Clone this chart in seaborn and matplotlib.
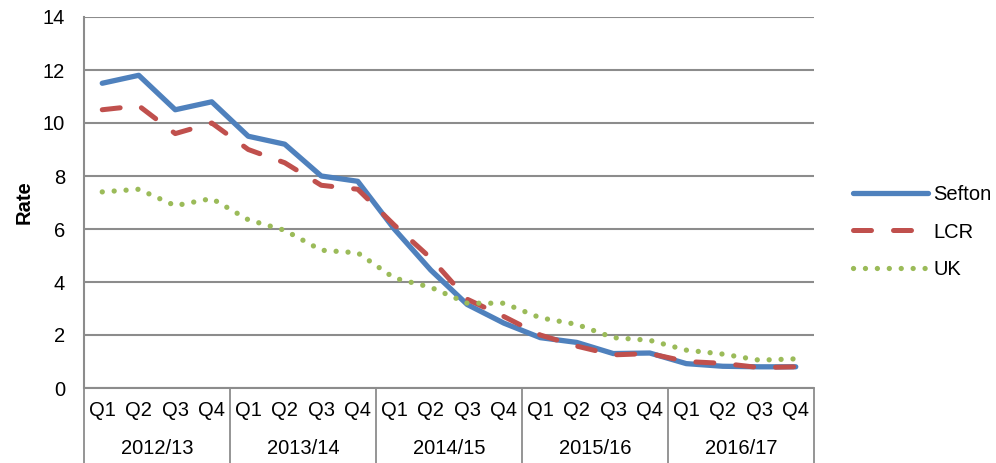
import matplotlib
matplotlib.use("Agg")
import matplotlib.pyplot as plt
import matplotlib.transforms as mtransforms
import seaborn as sns
import pandas as pd
import numpy as np

sns.set_theme(style="white")
plt.rcParams['font.family'] = ['Liberation Sans', 'DejaVu Sans']

years = ["2012/13", "2013/14", "2014/15", "2015/16", "2016/17"]
quarters = ["Q1", "Q2", "Q3", "Q4"]

sefton = [11.5, 11.8, 10.5, 10.8, 9.5, 9.2, 8.0, 7.8, 6.0, 4.45, 3.15, 2.45,
          1.9, 1.72, 1.3, 1.32, 0.92, 0.82, 0.8, 0.8]
lcr = [10.5, 10.65, 9.6, 10.0, 9.0, 8.5, 7.65, 7.5, 6.15, 4.9, 3.35, 2.7,
       2.0, 1.58, 1.25, 1.3, 1.0, 0.93, 0.77, 0.8]
uk = [7.4, 7.5, 6.88, 7.15, 6.35, 5.95, 5.2, 5.1, 4.15, 3.8, 3.2, 3.2,
      2.65, 2.4, 1.9, 1.8, 1.43, 1.28, 1.05, 1.1]

series_names = ["Sefton", "LCR", "UK"]
series_values = [sefton, lcr, uk]
colors = {"Sefton": "#4F81BD", "LCR": "#C0504D", "UK": "#9BBB59"}

rows = []
for name, vals in zip(series_names, series_values):
    for i, v in enumerate(vals):
        rows.append({"idx": i, "series": name, "Rate": v})
df = pd.DataFrame(rows)

FS = 14.5
W, H = 996, 463
fig = plt.figure(figsize=(W / 100, H / 100), dpi=100)
L, R, T, B = 84, 814, 17, 388
ax = fig.add_axes([L / W, 1 - B / H, (R - L) / W, (B - T) / H])

styles = {
    "Sefton": dict(linestyle="-", linewidth=3.8),
    "LCR": dict(linestyle=(0, (3.6, 4.4)), linewidth=3.6),
    "UK": dict(linestyle=(0, (0.01, 2.25)), linewidth=3.8),
}
for name in series_names:
    sub = df[df.series == name]
    sns.lineplot(data=sub, x="idx", y="Rate", ax=ax, color=colors[name],
                 label=name, solid_capstyle="round", dash_capstyle="round",
                 **styles[name])

ax.set_xlim(-0.5, 19.5)
ax.set_ylim(0, 14)
ax.set_yticks(np.arange(0, 15, 2))
ax.set_yticklabels([str(v) for v in range(0, 15, 2)], fontsize=FS, color="black")
ax.yaxis.grid(True, color="#8c8c8c", linewidth=1.5)
ax.set_axisbelow(True)
ax.set_xticks([])
ax.set_xlabel("")
ax.set_ylabel("Rate", fontsize=FS, fontweight="bold", labelpad=7, color="black")
ax.tick_params(axis="y", length=0, pad=13.5)
for s in ["top", "right"]:
    ax.spines[s].set_visible(False)
ax.spines["bottom"].set_visible(False)
ax.spines["left"].set_color("#8c8c8c")
ax.spines["left"].set_linewidth(1.5)

trans = mtransforms.blended_transform_factory(ax.transData, ax.transAxes)
ext = -(463 - B) / (B - T)
ax.plot([-0.5, 19.5], [0, 0], transform=trans, color="#8c8c8c", lw=1.5, clip_on=False)
for k in range(6):
    xv = -0.5 + 4 * k
    ax.plot([xv, xv], [0, ext], transform=trans, color="#8c8c8c", lw=1.3, clip_on=False)

qy = -(411 - B) / (B - T)
yy = -(449 - B) / (B - T)
for i in range(20):
    ax.text(i, qy, quarters[i % 4], transform=trans, ha="center", va="center",
            fontsize=FS, color="black")
for k, yr in enumerate(years):
    ax.text(4 * k + 1.5, yy, yr, transform=trans, ha="center", va="center",
            fontsize=FS, color="black")

leg = ax.legend(loc="center left", bbox_to_anchor=((853 - L) / (R - L), (B - 232) / (B - T)),
                frameon=False, fontsize=FS, handlelength=3.7, labelspacing=0.9,
                handletextpad=0.3, borderpad=0, borderaxespad=0)
for t in leg.get_texts():
    t.set_color("black")

fig.savefig("out.png", dpi=100)
